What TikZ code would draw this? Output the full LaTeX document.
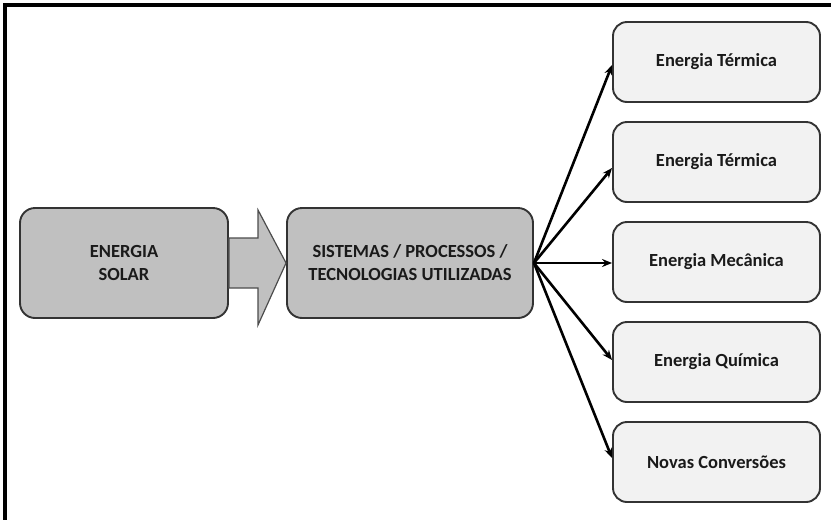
\documentclass[tikz,border=0pt]{standalone}
\usepackage{fontspec}
\setmainfont{Carlito}
\usetikzlibrary{arrows.meta}
\definecolor{boxgray}{HTML}{C0C0C0}
\definecolor{lightbox}{HTML}{F2F2F2}
\definecolor{txt}{HTML}{1A1A1A}
\definecolor{edge}{HTML}{333333}
\begin{document}
\begin{tikzpicture}[x=1pt,y=-1pt,
  bigbox/.style={draw=edge,line width=1.9pt,rounded corners=15pt,fill=boxgray,
    minimum height=110pt,align=center,text=txt,font=\bfseries\fontsize{18.5}{23}\selectfont,inner sep=0pt},
  outbox/.style={draw=edge,line width=1.9pt,rounded corners=14pt,fill=lightbox,
    minimum width=207pt,minimum height=80pt,text=txt,font=\bfseries\fontsize{18.5}{22}\selectfont,inner sep=0pt},
  conn/.style={line width=2.6pt,-{Stealth[length=10pt,width=8pt]}}]
\useasboundingbox (0,0) rectangle (831,520);
% frame (partially visible)
\draw[line width=3.2pt] (5,520) -- (5,5) -- (831,5);
% nodes
\node[bigbox,minimum width=208pt] (solar) at (124,263) {ENERGIA\\SOLAR};
\node[bigbox,minimum width=246pt] (sist) at (410,263) {SISTEMAS / PROCESSOS /\\TECNOLOGIAS UTILIZADAS};
\node[outbox] (b1) at (716.5,62) {Energia Térmica};
\node[outbox] (b2) at (716.5,162) {Energia Térmica};
\node[outbox] (b3) at (716.5,262) {Energia Mecânica};
\node[outbox] (b4) at (716.5,362) {Energia Química};
\node[outbox] (b5) at (716.5,462) {Novas Conversões};
% block arrow between solar and sist
\draw[draw=gray!60!black,line width=1.2pt,fill=boxgray]
  (solar.east|-0,238) -- (258,238) -- (258,210) -- (sist.west) -- (258,325) -- (258,288) -- (solar.east|-0,288) -- cycle;
% connectors
\draw[conn] (sist.east) -- ([yshift=-3pt]b1.west);
\draw[conn] (sist.east) -- ([yshift=-6pt]b2.west);
\draw[conn] (sist.east) -- ([yshift=-1pt]b3.west);
\draw[conn] (sist.east) -- ([yshift=2pt]b4.west);
\draw[conn] (sist.east) -- ([yshift=4pt]b5.west);
\end{tikzpicture}
\end{document}
